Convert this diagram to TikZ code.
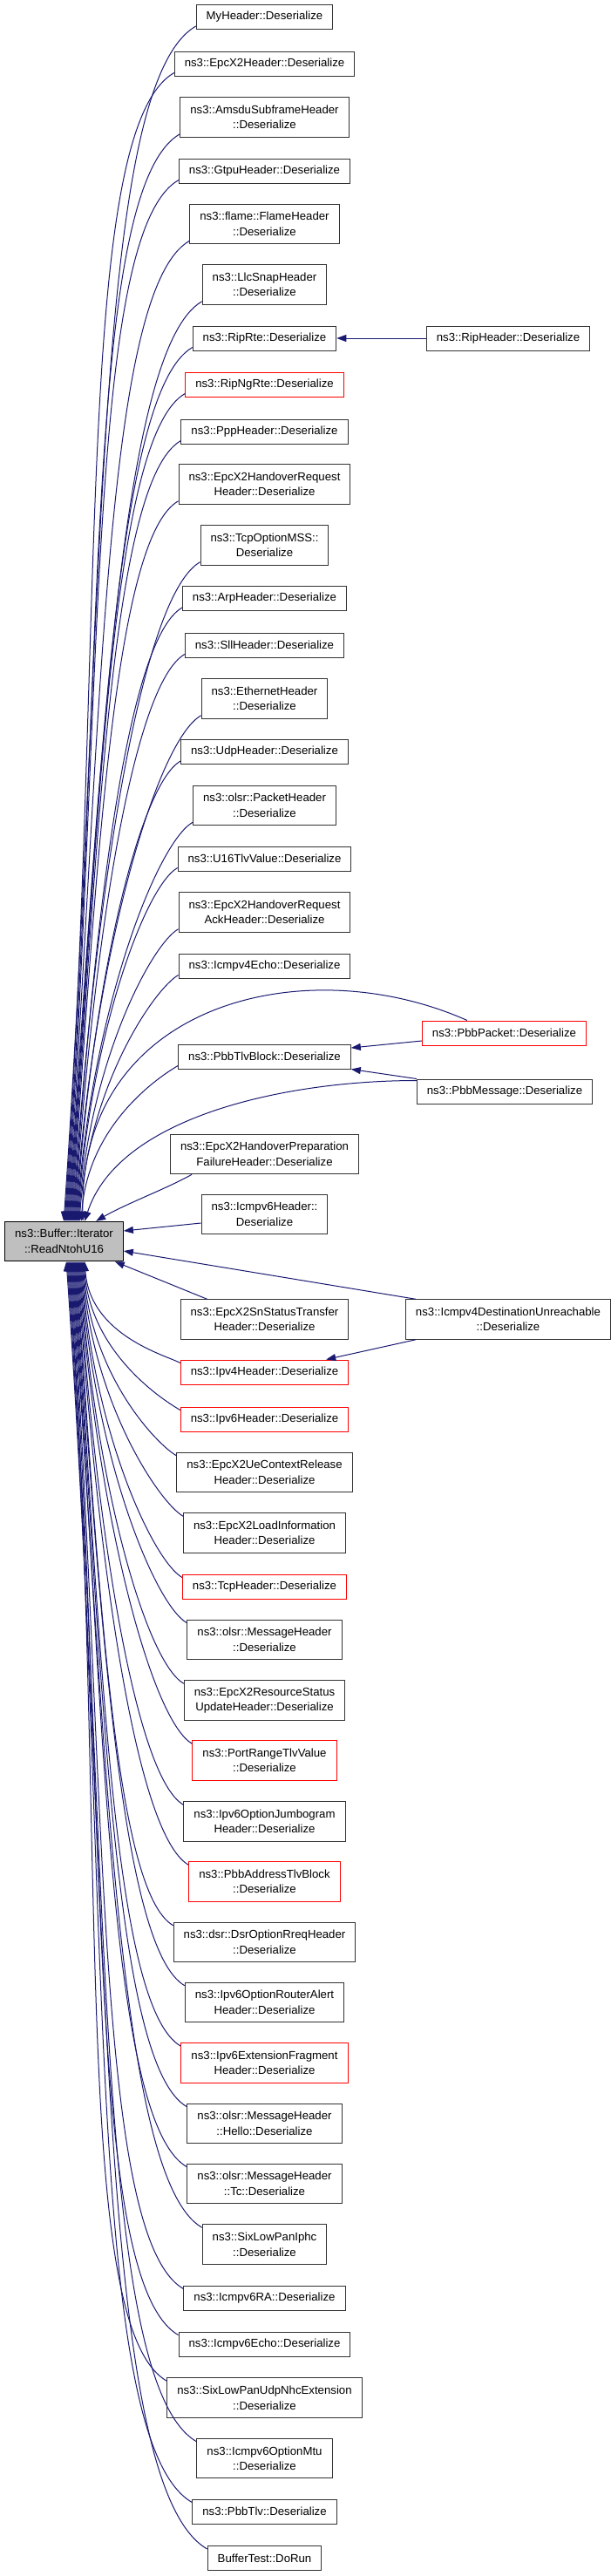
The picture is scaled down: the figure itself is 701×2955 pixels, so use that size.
\documentclass[tikz,border=0pt]{standalone}
\usepackage{fontspec}
\setmainfont{Liberation Sans}
\usetikzlibrary{arrows.meta}
\definecolor{edgeblue}{HTML}{191970}

\begin{document}
\begin{tikzpicture}[x=1pt,y=1pt]
\tikzset{fn/.style={draw=black!80,line width=1pt,inner xsep=11.5pt,inner ysep=0pt,
    minimum height=28pt,align=center,font=\fontsize{13.2}{17.5}\selectfont},
  two/.style={minimum height=45.5pt},
  undoc/.style={draw=red},
  call/.style={edgeblue,line width=1pt,-{Triangle[length=11pt,width=8pt]}}}
\useasboundingbox (0,0) rectangle (701,-2955);

\node[fn,two,fill=black!25,draw=black] (main) at (73.5,-1424) {ns3::Buffer::Iterator\\::ReadNtohU16};

\node[fn] (myhdr) at (303.5,-19.5) {MyHeader::Deserialize};
\node[fn] (epcx2) at (303.5,-73) {ns3::EpcX2Header::Deserialize};
\node[fn,two] (amsdu) at (303.5,-134.5) {ns3::AmsduSubframeHeader\\::Deserialize};
\node[fn] (gtpu) at (303.5,-196) {ns3::GtpuHeader::Deserialize};
\node[fn,two] (flame) at (303.5,-257) {ns3::flame::FlameHeader\\::Deserialize};
\node[fn,two] (llc) at (303.5,-326.5) {ns3::LlcSnapHeader\\::Deserialize};
\node[fn] (riprte) at (303.5,-388) {ns3::RipRte::Deserialize};
\node[fn] (riphdr) at (583,-388) {ns3::RipHeader::Deserialize};
\node[fn,undoc] (ripng) at (303.5,-441) {ns3::RipNgRte::Deserialize};
\node[fn] (ppp) at (303.5,-495) {ns3::PppHeader::Deserialize};
\node[fn,two] (horeq) at (303.5,-555.5) {ns3::EpcX2HandoverRequest\\Header::Deserialize};
\node[fn,two] (mss) at (303.5,-625.5) {ns3::TcpOptionMSS::\\Deserialize};
\node[fn] (arp) at (303.5,-686.5) {ns3::ArpHeader::Deserialize};
\node[fn] (sll) at (303.5,-740) {ns3::SllHeader::Deserialize};
\node[fn,two] (eth) at (303.5,-801.5) {ns3::EthernetHeader\\::Deserialize};
\node[fn] (udp) at (303.5,-862.5) {ns3::UdpHeader::Deserialize};
\node[fn,two] (olsrpkt) at (303.5,-924) {ns3::olsr::PacketHeader\\::Deserialize};
\node[fn] (utlv) at (303.5,-985) {ns3::U16TlvValue::Deserialize};
\node[fn,two] (hoack) at (303.5,-1046.5) {ns3::EpcX2HandoverRequest\\AckHeader::Deserialize};
\node[fn] (echofour) at (303.5,-1108) {ns3::Icmpv4Echo::Deserialize};
\node[fn,undoc] (pbbpkt) at (578.5,-1185) {ns3::PbbPacket::Deserialize};
\node[fn] (tlvblk) at (303.5,-1212) {ns3::PbbTlvBlock::Deserialize};
\node[fn] (pbbmsg) at (579,-1252) {ns3::PbbMessage::Deserialize};
\node[fn,two] (hoprep) at (303.5,-1324) {ns3::EpcX2HandoverPreparation\\FailureHeader::Deserialize};
\node[fn,two] (icmpsix) at (303.5,-1393) {ns3::Icmpv6Header::\\Deserialize};

\node[fn,two] (snst) at (303.5,-1513.5) {ns3::EpcX2SnStatusTransfer\\Header::Deserialize};
\node[fn,two] (unreach) at (583,-1513.5) {ns3::Icmpv4DestinationUnreachable\\::Deserialize};
\node[fn,undoc] (ipfour) at (303.5,-1574) {ns3::Ipv4Header::Deserialize};
\node[fn,undoc] (ipsix) at (303.5,-1628) {ns3::Ipv6Header::Deserialize};
\node[fn,two] (uectx) at (303.5,-1689) {ns3::EpcX2UeContextRelease\\Header::Deserialize};
\node[fn,two] (load) at (303.5,-1758.5) {ns3::EpcX2LoadInformation\\Header::Deserialize};
\node[fn,undoc] (tcp) at (303.5,-1820) {ns3::TcpHeader::Deserialize};
\node[fn,two] (olsrmsg) at (303.5,-1881) {ns3::olsr::MessageHeader\\::Deserialize};
\node[fn,two] (rsu) at (303.5,-1950.5) {ns3::EpcX2ResourceStatus\\UpdateHeader::Deserialize};
\node[fn,two,undoc] (prange) at (303.5,-2019.5) {ns3::PortRangeTlvValue\\::Deserialize};
\node[fn,two] (jumbo) at (303.5,-2089.5) {ns3::Ipv6OptionJumbogram\\Header::Deserialize};
\node[fn,two,undoc] (addrtlv) at (303.5,-2158.5) {ns3::PbbAddressTlvBlock\\::Deserialize};
\node[fn,two] (dsr) at (303.5,-2228) {ns3::dsr::DsrOptionRreqHeader\\::Deserialize};
\node[fn,two] (ralert) at (303.5,-2297) {ns3::Ipv6OptionRouterAlert\\Header::Deserialize};
\node[fn,two,undoc] (frag) at (303.5,-2366.5) {ns3::Ipv6ExtensionFragment\\Header::Deserialize};
\node[fn,two] (hello) at (303.5,-2436) {ns3::olsr::MessageHeader\\::Hello::Deserialize};
\node[fn,two] (tc) at (303.5,-2505) {ns3::olsr::MessageHeader\\::Tc::Deserialize};
\node[fn,two] (iphc) at (303.5,-2574.5) {ns3::SixLowPanIphc\\::Deserialize};
\node[fn] (ra) at (303.5,-2636) {ns3::Icmpv6RA::Deserialize};
\node[fn] (echosix) at (303.5,-2689) {ns3::Icmpv6Echo::Deserialize};
\node[fn,two] (nhc) at (303.5,-2750.5) {ns3::SixLowPanUdpNhcExtension\\::Deserialize};
\node[fn,two] (mtu) at (303.5,-2820) {ns3::Icmpv6OptionMtu\\::Deserialize};
\node[fn] (pbbtlv) at (303.5,-2881) {ns3::PbbTlv::Deserialize};
\node[fn] (dorun) at (303.5,-2934.5) {BufferTest::DoRun};

% callers above
\foreach \n/\xa/\dd [evaluate=\dd as \od using 0.1*\dd, evaluate=\dd as \id using 0.51*\dd]
  in {myhdr/68/1375,epcx2/69/1323,amsdu/70/1255,gtpu/71/1202,flame/72/1133,llc/73/1064,
    riprte/74/1011,ripng/75/958,ppp/76/905,horeq/77/836,mss/78/768,arp/79/716,sll/80/664,
    eth/81/595,udp/82/543,olsrpkt/83/476,utlv/84/426,hoack/85/360,echofour/86/311,tlvblk/88/221}
{
  \coordinate (s) at ([yshift=4pt]\n.south west);
  \coordinate (t) at ([xshift=\xa]main.north west);
  \draw[call] (s) .. controls ([shift={(210:\od)}]s) and ([shift={(86:\id)}]t) .. (t);
}
% callers below
\foreach \n/\xa/\dd [evaluate=\dd as \od using 0.1*\dd, evaluate=\dd as \id using 0.51*\dd]
  in {ipfour/92/168,ipsix/91/208,uectx/90/258,load/89/317,tcp/88/385,olsrmsg/87/435,
    rsu/86/500,prange/85/554,jumbo/84/624,addrtlv/83/693,dsr/82/762,ralert/81/831,frag/80/901,
    hello/79/970,tc/78/1039,iphc/77/1109,ra/76/1179,echosix/75/1232,nhc/74/1285,mtu/73/1354,
    pbbtlv/72/1424,dorun/71/1477}
{
  \coordinate (s) at ([yshift=-4pt]\n.north west);
  \coordinate (t) at ([xshift=\xa]main.south west);
  \draw[call] (s) .. controls ([shift={(150:\od)}]s) and ([shift={(-86:\id)}]t) .. (t);
}

\coordinate (s) at ([xshift=52pt]pbbpkt.north west);
\coordinate (t) at ([xshift=90]main.north west);
\draw[call] (s) .. controls ([shift={(156:203)}]s) and ([shift={(91:251)}]t) .. (t);
\coordinate (s) at ([yshift=-2pt]pbbmsg.north west);
\coordinate (t) at ([xshift=92]main.north west);
\draw[call] (s) .. controls ([shift={(180:150)}]s) and ([shift={(72:126)}]t) .. (t);
\coordinate (s) at ([xshift=25pt]hoprep.south west);
\coordinate (t) at ([xshift=105]main.north west);
\draw[call] (s) .. controls ([shift={(210:30)}]s) and ([shift={(30:40)}]t) .. (t);
\draw[call] ([yshift=-10pt]icmpsix.west) -- ([yshift=12pt]main.east);
\draw[call] ([xshift=12pt]unreach.north west) -- ([yshift=-11pt]main.east);
\draw[call] ([xshift=31pt]snst.north west) -- ([xshift=-10pt]main.south east);

\draw[call] (riphdr.west) -- (riprte.east);
\draw[call] ([yshift=-9pt]pbbpkt.west) -- ([yshift=10pt]tlvblk.east);
\draw[call] (pbbmsg.north west) -- (tlvblk.south east);
\draw[call] ([xshift=12pt]unreach.south west) -- ([xshift=-26pt]ipfour.north east);
\end{tikzpicture}
\end{document}
